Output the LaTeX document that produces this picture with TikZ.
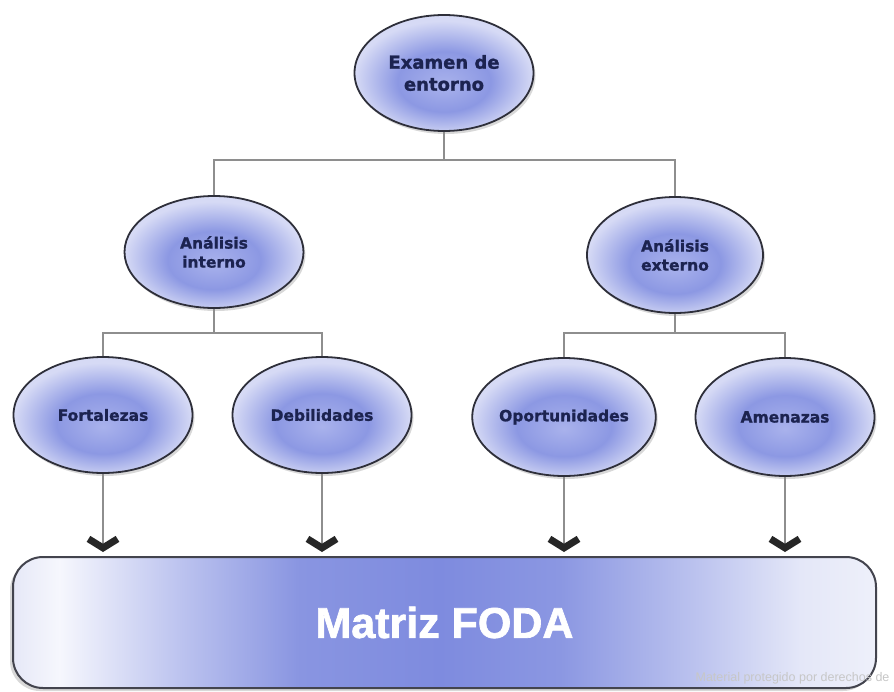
\documentclass[tikz,border=0pt]{standalone}
\usepackage{fontspec}
\setmainfont{DejaVu Sans}
\newfontfamily\heavyfont[FakeBold=1.2]{DejaVu Sans Bold}
\newfontfamily\fodafont[FakeBold=1.6]{Liberation Sans Bold}
\newfontfamily\wmfont{Liberation Sans}
\usetikzlibrary{shapes.geometric,arrows.meta,shadows}
\definecolor{linegray}{HTML}{8E8E8E}
\definecolor{outline}{HTML}{2E2F3A}
\definecolor{navytxt}{HTML}{1C2350}
\definecolor{chev}{HTML}{262626}
\definecolor{e0}{HTML}{A9B2EC}
\definecolor{e1}{HTML}{8C98E3}
\definecolor{e2}{HTML}{D6DAF5}
\definecolor{c0}{HTML}{E6E8F7}
\definecolor{c1}{HTML}{F6F7FD}
\definecolor{c2}{HTML}{BCC3EF}
\definecolor{c3}{HTML}{8995E1}
\definecolor{c4}{HTML}{7E8BDF}
\definecolor{c5}{HTML}{8B97E2}
\definecolor{c6}{HTML}{BDC4EF}
\definecolor{c7}{HTML}{E4E7F8}
\definecolor{c8}{HTML}{EEF0FA}
\pgfdeclarehorizontalshading{fodashade}{100bp}{color(0bp)=(c0); color(25bp)=(c0); color(27.7bp)=(c1); color(34.7bp)=(c2); color(41.6bp)=(c3); color(49.7bp)=(c4); color(56.7bp)=(c5); color(64.8bp)=(c6); color(70.6bp)=(c7); color(75bp)=(c8); color(100bp)=(c8)}
\pgfdeclareradialshading{ellshade}{\pgfpoint{0bp}{-5bp}}{color(0bp)=(e0); color(13bp)=(e1); color(25bp)=(e2); color(50bp)=(e2)}
\tikzset{
  ell/.style={ellipse, draw=outline, line width=1.8pt, shading=ellshade,
    minimum width=179pt, minimum height=116pt, inner sep=0pt, align=center,
    text=navytxt, font=\heavyfont\fontsize{15.5}{19}\selectfont,
    drop shadow={shadow xshift=2pt, shadow yshift=-3pt, opacity=.3}},
  conn/.style={draw=linegray, line width=2pt},
  arr/.style={conn, shorten >=4pt, -{Straight Barb[length=9pt, width=29pt, line width=7pt, color=chev]}},
  fodabox/.style={draw=outline!90, line width=2pt, rounded corners=30pt, shading=fodashade,
    minimum width=863pt, minimum height=131pt, inner sep=0pt, text=white,
    font=\fodafont\fontsize{43}{48}\selectfont,
    drop shadow={shadow xshift=-3pt, shadow yshift=-3pt, opacity=.3}}
}
\begin{document}
\begin{tikzpicture}[x=1pt, y=-1pt]
\useasboundingbox[fill=white] (0,0) rectangle (894,691);
% nodes
\node[ell, font=\heavyfont\fontsize{18}{22}\selectfont] (ex) at (444,73) {Examen de\\entorno};
\node[ell, minimum height=112pt] (ai) at (214,252) {Análisis\\interno};
\node[ell, minimum width=176pt] (ae) at (675,255) {Análisis\\externo};
\node[ell] (fo) at (103,415) {Fortalezas};
\node[ell] (de) at (322,415) {Debilidades};
\node[ell, minimum width=178pt, minimum height=118pt] (op) at (564,417) {Oportunidades};
\node[ell, minimum height=118pt] (am) at (785,417) {Amenazas};
\node[fodabox] (foda) at (444.5,622.5) {Matriz FODA};
% watermark
\node[text=black!22, font=\wmfont\fontsize{12.5}{14}\selectfont, anchor=east] (wm) at (893,678) {Material protegido por derechos de};
% bus coordinates
\coordinate (bustop) at (0,160);
\coordinate (busl) at (0,333);
% tree connectors
\draw[conn] (ex.south) -- (ex.south |- bustop);
\draw[conn] (ai.north) |- (ex.south |- bustop) -| (ae.north);
\draw[conn] (ai.south) -- (ai.south |- busl);
\draw[conn] (fo.north) |- (ai.south |- busl) -| (de.north);
\draw[conn] (ae.south) -- (ae.south |- busl);
\draw[conn] (op.north) |- (ae.south |- busl) -| (am.north);
% arrows
\draw[arr] (fo.south) -- (fo.south |- foda.north);
\draw[arr] (de.south) -- (de.south |- foda.north);
\draw[arr] (op.south) -- (op.south |- foda.north);
\draw[arr] (am.south) -- (am.south |- foda.north);
\end{tikzpicture}
\end{document}
